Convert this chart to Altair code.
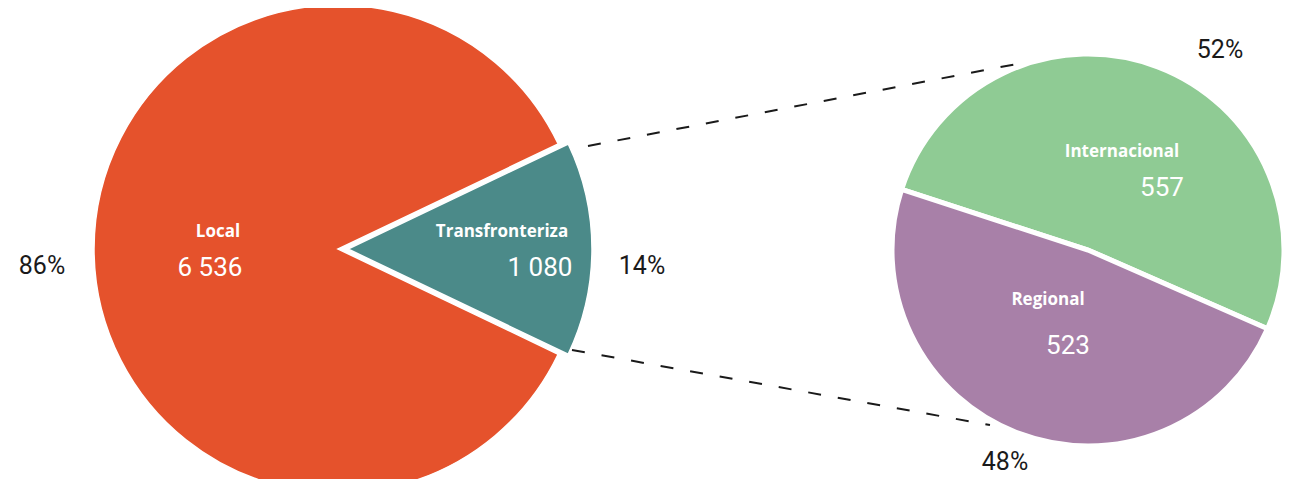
import math
import altair as alt
import pandas as pd

# ---- data ----
outer_cats = ["Local", "Transfronteriza"]
outer_vals = [6536, 1080]
outer_order = [1, 0]
outer_colors = ["#E5522C", "#4B8A89"]

inner_cats = ["Internacional", "Regional"]
inner_vals = [557, 523]
inner_order = [0, 1]
inner_colors = ["#8FCB94", "#A880A8"]

FONT = "Roboto, Liberation Sans, sans-serif"
NAME_FONT = "Open Sans, Roboto, sans-serif"


def fmt(v):
    return f"{v:,}".replace(",", " ")


outer_df = pd.DataFrame({"cat": outer_cats, "value": outer_vals, "ord": outer_order})
inner_df = pd.DataFrame({"cat": inner_cats, "value": inner_vals, "ord": inner_order})

# ---- layout ----
W, H = 1274, 471
L_CX, L_CY, L_R = 330, 241, 244
T_CX = 340          # exploded wedge centre
R_CX, R_CY, R_R = 1080, 242, 196
L_START = math.radians(64.5)
R_START = math.radians(288)


def outer_layer(cx, visible):
    return alt.Chart(outer_df).mark_arc(
        radius=L_R, stroke="white", strokeWidth=1.5
    ).encode(
        x=alt.value(cx),
        y=alt.value(L_CY),
        theta=alt.Theta("value:Q", stack=True,
                        scale=alt.Scale(range=[L_START, L_START + 2 * math.pi])),
        color=alt.Color("cat:N", scale=alt.Scale(domain=outer_cats, range=outer_colors), legend=None),
        order=alt.Order("ord:Q"),
        opacity=alt.when(alt.datum.cat == visible).then(alt.value(1)).otherwise(alt.value(0)),
    )


local_arc = outer_layer(L_CX, "Local")
trans_arc = outer_layer(T_CX, "Transfronteriza")
outer = alt.layer(local_arc, trans_arc)

inner_arc = alt.Chart(inner_df).mark_arc(
    radius=R_R, stroke="white", strokeWidth=5
).encode(
    x=alt.value(R_CX),
    y=alt.value(R_CY),
    theta=alt.Theta("value:Q", stack=True,
                    scale=alt.Scale(range=[R_START, R_START + 2 * math.pi])),
    color=alt.Color("cat:N", scale=alt.Scale(domain=inner_cats, range=inner_colors), legend=None),
    order=alt.Order("ord:Q"),
)

# connector lines
conn_df = pd.DataFrame({
    "x": [580, 564], "y": [138, 342], "x2": [1014, 982], "y2": [55, 417]
})
connectors = alt.Chart(conn_df).mark_rule(
    color="#1a1a1a", strokeWidth=2, strokeDash=[13, 17]
).encode(
    x=alt.X("x:Q", scale=None), y=alt.Y("y:Q", scale=None),
    x2="x2:Q", y2="y2:Q",
)

# labels
ot = sum(outer_vals)
it = sum(inner_vals)
name_pos = {"Local": (210, 224), "Transfronteriza": (494, 224),
            "Internacional": (1114, 144), "Regional": (1040, 292)}
val_pos = {"Local": (202, 260), "Transfronteriza": (532, 260),
           "Internacional": (1154, 180), "Regional": (1060, 338)}
pct_pos = {"Local": (34, 258), "Transfronteriza": (634, 258),
           "Internacional": (1212, 42), "Regional": (997, 454)}

rows_name, rows_val, rows_pct = [], [], []
for cats, vals, tot in [(outer_cats, outer_vals, ot), (inner_cats, inner_vals, it)]:
    for c, v in zip(cats, vals):
        rows_name.append({"t": c, "x": name_pos[c][0], "y": name_pos[c][1]})
        rows_val.append({"t": fmt(v), "x": val_pos[c][0], "y": val_pos[c][1]})
        rows_pct.append({"t": f"{round(100 * v / tot)}%", "x": pct_pos[c][0], "y": pct_pos[c][1]})


def text_layer(rows, font, size, color, weight):
    return alt.Chart(pd.DataFrame(rows)).mark_text(
        font=font, fontSize=size, color=color, fontWeight=weight,
        align="center", baseline="middle"
    ).encode(
        x=alt.X("x:Q", scale=None), y=alt.Y("y:Q", scale=None), text="t:N"
    )


names = text_layer(rows_name, NAME_FONT, 17, "white", "bold")
values = text_layer(rows_val, FONT, 26, "white", "normal")
pcts = text_layer(rows_pct, FONT, 25, "#1a1a1a", "normal")

chart = alt.layer(
    connectors, outer, inner_arc, names, values, pcts
).resolve_scale(
    theta="independent", color="independent"
).properties(
    width=W, height=H, autosize=alt.AutoSizeParams(type="none"), padding=0
).configure_view(stroke=None)

chart.save("out.html", embed_options={"renderer": "svg", "actions": False})
